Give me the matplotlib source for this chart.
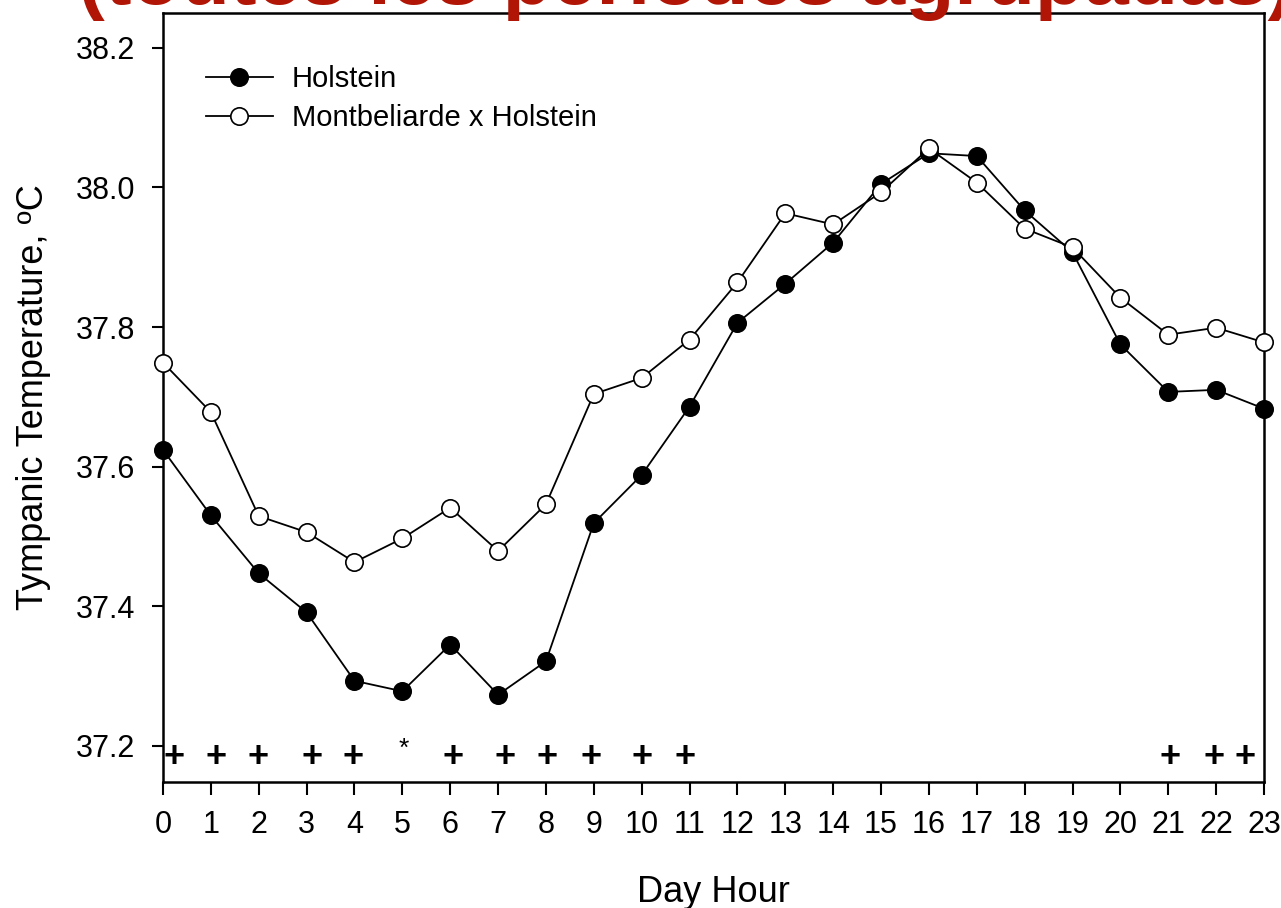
import numpy as np
import matplotlib.pyplot as plt

plt.rcParams['font.family'] = ['Liberation Sans', 'DejaVu Sans']

# hourly tympanic temperature
hours = np.arange(24)
holstein = [37.624, 37.530, 37.447, 37.391, 37.293, 37.278, 37.345, 37.273,
            37.321, 37.519, 37.588, 37.686, 37.806, 37.862, 37.921, 38.005,
            38.049, 38.045, 37.967, 37.907, 37.775, 37.707, 37.710, 37.683]
montb_holst = [37.749, 37.678, 37.529, 37.506, 37.463, 37.497, 37.541, 37.479,
               37.546, 37.704, 37.727, 37.782, 37.864, 37.963, 37.947, 37.993,
               38.056, 38.007, 37.941, 37.914, 37.842, 37.789, 37.799, 37.778]

# significance marks under the curves (x position, symbol)
sig_x = [0.23, 1.10, 1.99, 3.11, 3.97, 5.03, 6.06, 7.14, 8.02, 8.94, 10.01,
         10.91, 21.04, 21.96, 22.61]
sig_sym = ['+', '+', '+', '+', '+', '*', '+', '+', '+', '+', '+', '+', '+', '+', '+']

titre = "(toutes les periodes agrupadas)"

fig = plt.figure(figsize=(12.81, 9.08), dpi=100)
ax = fig.add_axes([163/1281, 1-782/908, 1101/1281, 769/908])

ax.plot(hours, holstein, '-o', color='black', lw=1.3, ms=12.5,
        mfc='black', mec='black', mew=1.2, label='Holstein', clip_on=False, zorder=3)
ax.plot(hours, montb_holst, '-o', color='black', lw=1.3, ms=12.5,
        mfc='white', mec='black', mew=1.2, label='Montbeliarde x Holstein', clip_on=False, zorder=3)

for xs, s in zip(sig_x, sig_sym):
    if s == '+':
        ax.text(xs, 37.183, s, ha='center', va='center', fontsize=26, fontweight='bold')
    else:
        ax.text(xs, 37.196, s, ha='center', va='center', fontsize=19)

ax.set_xlim(0, 23)
ax.set_ylim(37.148, 38.25)
ax.set_xticks(hours)
ax.set_yticks([37.2, 37.4, 37.6, 37.8, 38.0, 38.2])
ax.set_yticklabels(['37.2', '37.4', '37.6', '37.8', '38.0', '38.2'])
ax.tick_params(axis='both', labelsize=22, width=1.5, direction='out')
ax.tick_params(axis='y', length=8, pad=12)
ax.tick_params(axis='x', length=9, pad=11)
for sp in ax.spines.values():
    sp.set_linewidth(1.8)

ax.set_xlabel('Day Hour', fontsize=26, labelpad=25)
ax.set_ylabel('Tympanic Temperature, ºC', fontsize=26, labelpad=18)

ax.legend(loc='upper left', bbox_to_anchor=(0.039, 0.932), frameon=False,
          fontsize=21, handlelength=2.3, handletextpad=0.65, labelspacing=0.36,
          borderpad=0, borderaxespad=0)

fig.text(78/1281, 1-4/908, titre, ha='left', va='baseline', fontsize=58,
         fontweight='bold', color='#B01506')

fig.savefig('out.png', dpi=100)
